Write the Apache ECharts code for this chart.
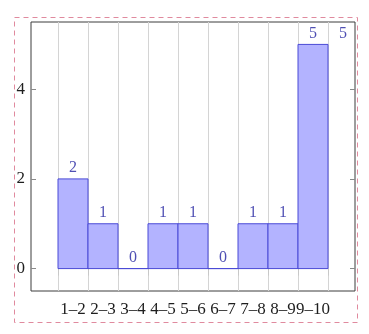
<!DOCTYPE html>
<html>
<head>
<meta charset="utf-8">
<script src="https://cdn.jsdelivr.net/npm/echarts@6/dist/echarts.min.js"></script>
<style>html,body{margin:0;padding:0;background:#fff}#c{width:369px;height:334px}</style>
</head>
<body>
<div id="c"></div>
<script>
// Data
const binEdges = [1, 2, 3, 4, 5, 6, 7, 8, 9, 10];
const binLabels = ['1–2', '2–3', '3–4', '4–5', '5–6', '6–7', '7–8', '8–9', '9–10'];
const counts = [2, 1, 0, 1, 1, 0, 1, 1, 5];
const lastCoordValue = 5; // pgfplots repeats the last coordinate's label
const yTicks = [0, 2, 4];

const barData = counts.map((c, i) => [binEdges[i], binEdges[i + 1], c]);
const labelData = counts.map((c, i) => [binEdges[i] + 0.5, c]);
labelData.push([binEdges[binEdges.length - 1] + 0.5, lastCoordValue]);
const labelPositions = binLabels.map((_, i) => binEdges[i] + 0.5);

const FONT = 'Liberation Serif';
const chart = echarts.init(document.getElementById('c'), null, {renderer: 'canvas'});
chart.setOption({
  animation: false,
  backgroundColor: '#fff',
  grid: {left: 31, right: 14, top: 22, bottom: 43, show: true, borderColor: '#3c3c3c', borderWidth: 1, backgroundColor: 'transparent'},
  xAxis: {
    type: 'value', min: 0.1, max: 10.9,
    axisLine: {show: false},
    axisTick: {show: true, inside: false, length: 7, customValues: binEdges, lineStyle: {color: '#c8c8c8'}},
    splitLine: {show: true, lineStyle: {color: '#d4d4d4', width: 1}},
    axisLabel: {
      customValues: labelPositions, margin: 10,
      fontFamily: FONT, fontSize: 17, color: '#1e1e1e',
      formatter: v => binLabels[Math.round(v - binEdges[0] - 0.5)] || ''
    }
  },
  yAxis: [{
    type: 'value', min: -0.5, max: 5.5,
    axisLine: {show: false},
    axisTick: {show: true, inside: true, length: 5, customValues: yTicks, lineStyle: {color: '#8a8a8a'}},
    splitLine: {show: false},
    axisLabel: {customValues: yTicks, margin: 6, fontFamily: FONT, fontSize: 17, color: '#1e1e1e'}
  }, {
    type: 'value', min: -0.5, max: 5.5, position: 'right',
    axisLine: {show: false},
    axisTick: {show: true, inside: true, length: 5, customValues: yTicks, lineStyle: {color: '#8a8a8a'}},
    splitLine: {show: false},
    axisLabel: {show: false}
  }],
  series: [{
    type: 'custom',
    data: barData,
    encode: {x: [0, 1], y: 2},
    renderItem: function (params, api) {
      const p0 = api.coord([api.value(0), api.value(2)]);
      const p1 = api.coord([api.value(1), 0]);
      return {
        type: 'rect',
        shape: {x: p0[0], y: p0[1], width: p1[0] - p0[0], height: p1[1] - p0[1]},
        style: {fill: '#b3b3ff', stroke: '#4a4ad6', lineWidth: 1}
      };
    },
    z: 3
  }, {
    type: 'scatter',
    data: labelData,
    symbolSize: 0,
    label: {
      show: true, position: 'top', distance: 3,
      fontFamily: FONT, fontSize: 16, color: '#2323a0',
      formatter: p => String(p.value[1])
    },
    z: 4
  }],
  graphic: [{
    type: 'rect', left: 12, top: 15,
    shape: {width: 343, height: 305},
    style: {fill: 'none', stroke: '#e08a9e', lineWidth: 1, lineDash: [5, 4]},
    z: 10
  }]
});
</script>
</body>
</html>
